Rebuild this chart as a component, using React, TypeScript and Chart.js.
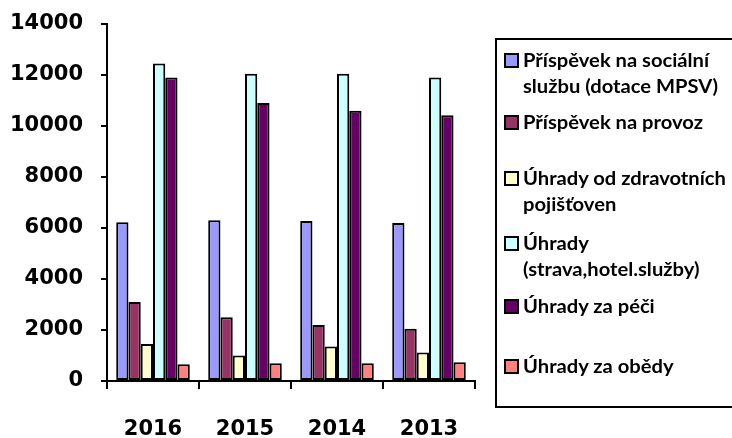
import React, { useEffect, useRef } from "react";
import { Chart, registerables } from "chart.js";

Chart.register(...registerables);

const categories = ["2016", "2015", "2014", "2013"];

const seriesNames = [
  "Příspěvek na sociální službu (dotace MPSV)",
  "Příspěvek na provoz",
  "Úhrady od zdravotních pojišťoven",
  "Úhrady (strava,hotel.služby)",
  "Úhrady za péči",
  "Úhrady za obědy",
];

const legendLines = [
  ["Příspěvek na sociální", "službu (dotace MPSV)"],
  ["Příspěvek na provoz"],
  ["Úhrady od zdravotních", "pojišťoven"],
  ["Úhrady", "(strava,hotel.služby)"],
  ["Úhrady za péči"],
  ["Úhrady za obědy"],
];

const prispevekSocialni = [6230, 6300, 6270, 6200];
const prispevekProvoz = [3100, 2500, 2200, 2050];
const uhradyZdravotni = [1450, 1000, 1350, 1120];
const uhradyStrava = [12450, 12050, 12050, 11900];
const uhradyPece = [11900, 10900, 10600, 10420];
const uhradyObedy = [660, 700, 700, 740];

const seriesValues = [
  prispevekSocialni,
  prispevekProvoz,
  uhradyZdravotni,
  uhradyStrava,
  uhradyPece,
  uhradyObedy,
];

const colors = ["#9999FF", "#993366", "#FFFFCC", "#CCFFFF", "#660066", "#FF8080"];

const yTicks = [0, 2000, 4000, 6000, 8000, 10000, 12000, 14000];

// legend layout: center y of each text line
const legendLineCenters = [
  [60, 86],
  [122],
  [178, 204],
  [243, 269],
  [306],
  [366],
];

export default function App() {
  const canvasRef = useRef<HTMLCanvasElement | null>(null);

  useEffect(() => {
    if (!canvasRef.current) return;
    const chart = new Chart(canvasRef.current, {
      type: "bar",
      data: {
        labels: categories,
        datasets: seriesValues.map((vals, i) => ({
          label: seriesNames[i],
          data: vals,
          backgroundColor: colors[i],
          borderColor: "#000000",
          borderWidth: 2,
          borderSkipped: false,
          categoryPercentage: 0.8,
          barPercentage: 1.0,
        })),
      },
      options: {
        animation: false,
        responsive: true,
        maintainAspectRatio: false,
        layout: { padding: { top: 24, right: 257, left: 0, bottom: 0 } },
        plugins: {
          legend: { display: false },
          tooltip: { enabled: false },
        },
        scales: {
          x: {
            grid: {
              display: true,
              drawOnChartArea: false,
              drawTicks: true,
              tickLength: 8,
              color: "#000000",
              lineWidth: 2,
              offset: true,
            },
            border: { display: true, color: "#000000", width: 2 },
            ticks: {
              color: "#000000",
              padding: 28,
              font: { family: "DejaVu Sans", weight: "bold", size: 21 },
            },
            afterFit: (s: any) => {
              s.height = 57;
              s.paddingLeft = 0;
              s.paddingRight = 0;
            },
          },
          y: {
            min: 0,
            max: 14000,
            afterBuildTicks: (s: any) => {
              s.ticks = yTicks.map((v) => ({ value: v }));
            },
            grid: {
              display: true,
              drawOnChartArea: false,
              drawTicks: true,
              tickLength: 6,
              color: "#000000",
              lineWidth: 2,
            },
            border: { display: true, color: "#000000", width: 2 },
            ticks: {
              color: "#000000",
              padding: 18,
              font: { family: "DejaVu Sans", weight: "bold", size: 21 },
              callback: (v: any) => String(v),
            },
            afterFit: (s: any) => {
              s.width = 107;
              s.paddingTop = 0;
              s.paddingBottom = 0;
            },
          },
        },
      },
    });
    return () => chart.destroy();
  }, []);

  return (
    <div
      style={{
        position: "fixed",
        left: 0,
        top: 0,
        width: 732,
        height: 438,
        background: "#ffffff",
        overflow: "hidden",
      }}
    >
      <canvas ref={canvasRef} style={{ position: "absolute", left: 0, top: 0, width: 732, height: 438 }} />
      <div
        style={{
          position: "absolute",
          left: 495,
          top: 38,
          width: 320,
          height: 370,
          border: "2px solid #000",
          boxSizing: "border-box",
        }}
      />
      {legendLines.map((lines, i) => (
        <React.Fragment key={i}>
          <div
            style={{
              position: "absolute",
              left: 504,
              top: legendLineCenters[i][0] - 7,
              width: 11,
              height: 11,
              border: "2px solid #000",
              background: colors[i],
            }}
          />
          {lines.map((t, j) => (
            <div
              key={j}
              style={{
                position: "absolute",
                left: 523,
                top: legendLineCenters[i][j] - 13,
                height: 26,
                lineHeight: "26px",
                whiteSpace: "nowrap",
                fontFamily: "Lato",
                fontWeight: 700,
                fontSize: 18.5,
                color: "#000",
                transform: "scaleX(1.09)",
                transformOrigin: "left center",
              }}
            >
              {t}
            </div>
          ))}
        </React.Fragment>
      ))}
    </div>
  );
}
